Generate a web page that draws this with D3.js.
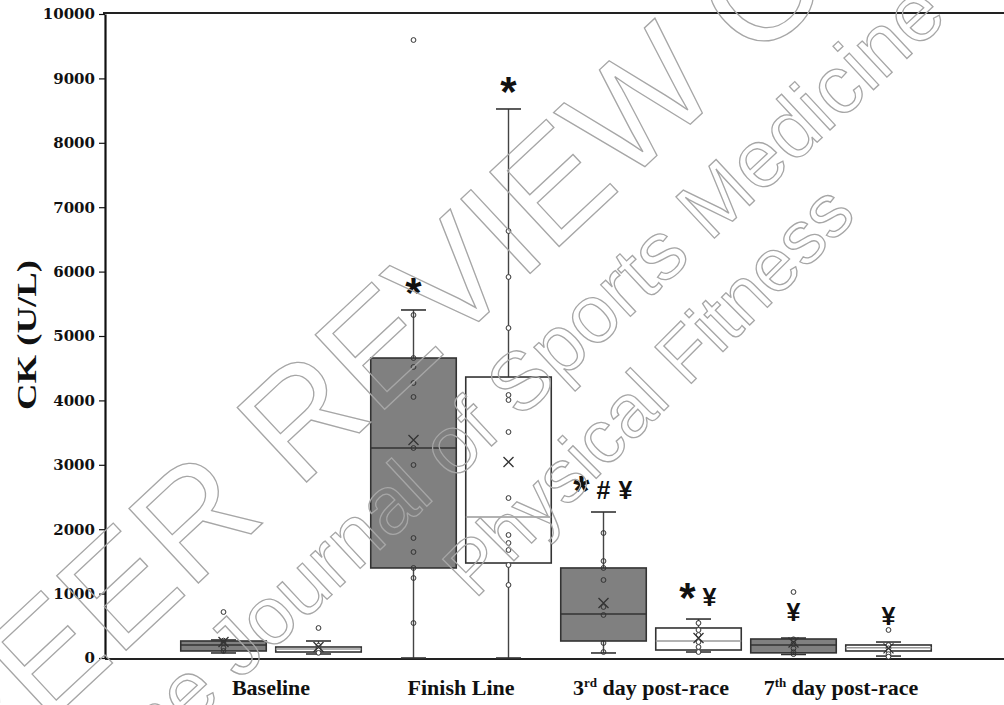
<!DOCTYPE html>
<html><head><meta charset="utf-8">
<script src="https://cdn.jsdelivr.net/npm/d3@7"></script>
<style>body{margin:0;background:#fff} svg{display:block}</style>
</head><body>
<svg id="chart" width="1004" height="705"></svg>
<script>
// ---- data ----
const categories = ["Baseline", "Finish Line", "3rd day post-race", "7th day post-race"];
const seriesKeys = ["dark", "white"];
const yTicks = [0, 1000, 2000, 3000, 4000, 5000, 6000, 7000, 8000, 9000, 10000];

const darkLow    = [78, 0, 78, 55];
const darkQ1     = [109, 1398, 264, 80];
const darkMedian = [202, 3261, 683, 200];
const darkQ3     = [264, 4658, 1398, 295];
const darkHigh   = [280, 5404, 2267, 310];
const darkMean   = [248, 3385, 854, 240];
const darkPoints = [
  [714, 270, 230, 155, 110],
  [9596, 5326, 4658, 4519, 4270, 4053, 3261, 2997, 1863, 1646, 1398, 1242, 543],
  [1941, 1506, 1398, 1211, 792, 668, 233, 93],
  [1025, 290, 220, 150, 90, 60]
];
const darkNotes = ["", "*", "* # ¥", "¥"];

const whiteLow    = [62, 0, 93, 30];
const whiteQ1     = [93, 1475, 124, 109];
const whiteMedian = [140, 2189, 264, 160];
const whiteQ3     = [171, 4363, 466, 202];
const whiteHigh   = [264, 8525, 605, 248];
const whiteMean   = [171, 3043, 310, 150];
const whitePoints = [
  [466, 190, 150, 120, 80],
  [6630, 5916, 5124, 4084, 4006, 3509, 2484, 1910, 1786, 1677, 1444, 1134],
  [543, 435, 357, 248, 171, 93],
  [435, 200, 150, 110, 60, 20]
];
const whiteNotes = ["", "*", "* ¥", "¥"];

const watermarks = ["PEER REVIEW COPY", "The Journal of Sports Medicine", "Physical Fitness"];

// ---- build ----
const series = {
  dark:  {low: darkLow, q1: darkQ1, med: darkMedian, q3: darkQ3, high: darkHigh, mean: darkMean, pts: darkPoints, notes: darkNotes,
          fill: "#808080", stroke: "#333", medStroke: "#333", ptFill: "none"},
  white: {low: whiteLow, q1: whiteQ1, med: whiteMedian, q3: whiteQ3, high: whiteHigh, mean: whiteMean, pts: whitePoints, notes: whiteNotes,
          fill: "#ffffff", stroke: "#333", medStroke: "#999", ptFill: "#fff"}
};

const svg = d3.select("#chart");
const mLeft = 105, mRight = 1012, mTop = 14, mBottom = 658;

const y = d3.scaleLinear().domain([0, 10000]).range([mBottom, mTop]);
const x0 = d3.scaleBand().domain(categories).range([176, 936]).padding(0);
const x1 = d3.scaleBand().domain(seriesKeys).range([0, x0.bandwidth()]).paddingInner(0.1).paddingOuter(0.05);

// frame lines
svg.append("line").attr("x1", mLeft - 2).attr("x2", mRight).attr("y1", mTop - 1).attr("y2", mTop - 1)
  .attr("stroke", "#222").attr("stroke-width", 2);
svg.append("line").attr("x1", mLeft).attr("x2", mRight).attr("y1", mBottom + 1).attr("y2", mBottom + 1)
  .attr("stroke", "#222").attr("stroke-width", 2);

// y axis
const yAxis = svg.append("g").attr("transform", `translate(${mLeft},0)`)
  .call(d3.axisLeft(y).tickValues(yTicks).tickFormat(d3.format("d")).tickSize(6).tickPadding(4).tickSizeOuter(0));
yAxis.select(".domain").attr("stroke", "#111").attr("stroke-width", 2.2);
yAxis.selectAll(".tick line").attr("stroke", "#111").attr("stroke-width", 1.2);
yAxis.selectAll(".tick text").attr("font-family", "DejaVu Serif").attr("font-weight", "bold")
  .attr("font-size", 15).attr("fill", "#111");

// y title
svg.append("text").attr("transform", "translate(36,335) rotate(-90)")
  .attr("text-anchor", "middle").attr("font-family", "Liberation Serif").attr("font-weight", "bold")
  .attr("font-size", 28).attr("fill", "#111")
  .attr("textLength", 150).attr("lengthAdjust", "spacingAndGlyphs")
  .text("CK (U/L)");

// x axis labels
const xAxis = svg.append("g").attr("transform", `translate(0,${mBottom})`)
  .call(d3.axisBottom(x0).tickSize(0).tickPadding(21));
xAxis.select(".domain").remove();
xAxis.selectAll(".tick text").attr("font-family", "Liberation Serif").attr("font-weight", "bold")
  .attr("font-size", 22).attr("fill", "#111")
  .each(function(d) {
    const m = d.match(/^(\d)(st|nd|rd|th)(.*)$/);
    if (!m) return;
    const t = d3.select(this).text(null);
    t.append("tspan").text(m[1]);
    t.append("tspan").attr("font-size", 13).attr("dy", "-0.55em").text(m[2]);
    t.append("tspan").attr("dy", "0.33em").text(m[3]);
  });

// boxes
const plot = svg.append("g");
categories.forEach((cat, i) => {
  seriesKeys.forEach(key => {
    const s = series[key];
    const bx = x0(cat) + x1(key);
    const bw = x1.bandwidth();
    const cx = bx + bw / 2;
    const g = plot.append("g");
    const capHalf = 12.5;
    g.append("line").attr("x1", cx).attr("x2", cx).attr("y1", y(s.high[i])).attr("y2", y(s.low[i]))
      .attr("stroke", "#444").attr("stroke-width", 1.4);
    [s.high[i], s.low[i]].forEach(v => {
      g.append("line").attr("x1", cx - capHalf).attr("x2", cx + capHalf).attr("y1", y(v)).attr("y2", y(v))
        .attr("stroke", "#333").attr("stroke-width", 1.6);
    });
    g.append("rect").attr("x", bx).attr("width", bw)
      .attr("y", y(s.q3[i])).attr("height", Math.max(1, y(s.q1[i]) - y(s.q3[i])))
      .attr("fill", s.fill).attr("stroke", s.stroke).attr("stroke-width", 1.6);
    g.append("line").attr("x1", bx).attr("x2", bx + bw).attr("y1", y(s.med[i])).attr("y2", y(s.med[i]))
      .attr("stroke", s.medStroke).attr("stroke-width", 1.5);
    g.selectAll("circle").data(s.pts[i]).join("circle")
      .attr("cx", cx).attr("cy", d => y(d)).attr("r", 2.4)
      .attr("fill", s.ptFill).attr("stroke", "#333").attr("stroke-width", 1);
    const my = y(s.mean[i]), h = 5;
    g.append("path").attr("d", `M${cx - h},${my - h}L${cx + h},${my + h}M${cx - h},${my + h}L${cx + h},${my - h}`)
      .attr("stroke", "#333").attr("stroke-width", 1.3).attr("fill", "none");
    const note = s.notes[i];
    if (note) {
      const syms = note.split(" ");
      const cy = y(s.high[i]) - (syms.length === 1 && syms[0] !== "*" ? 26 : 22);
      syms.forEach((sym, k) => {
        const sx = cx + (k - (syms.length - 1) / 2) * 22;
        const fs = sym === "*" ? 42 : 25;
        const off = sym === "*" ? (syms.length > 1 ? 0.36 : 0.45) : 0.36;
        g.append("text").attr("x", sx).attr("y", cy + off * fs).attr("text-anchor", "middle")
          .attr("font-family", "Liberation Sans").attr("font-weight", "bold")
          .attr("font-size", fs).attr("fill", "#111").text(sym);
      });
    }
  });
});

// watermark
const wm = svg.append("g").attr("fill", "none").attr("stroke", "#a6a6a6").attr("stroke-width", 1.3)
  .attr("font-family", "Liberation Sans").attr("text-anchor", "middle").attr("dominant-baseline", "central");
wm.append("text").attr("transform", "translate(482,248) rotate(-43)").attr("font-size", 148).text(watermarks[0]);
wm.append("text").attr("transform", "translate(515,385) rotate(-43)").attr("font-size", 82).text(watermarks[1]);
wm.append("text").attr("transform", "translate(648,390) rotate(-45)").attr("font-size", 75).text(watermarks[2]);
</script>
</body></html>
